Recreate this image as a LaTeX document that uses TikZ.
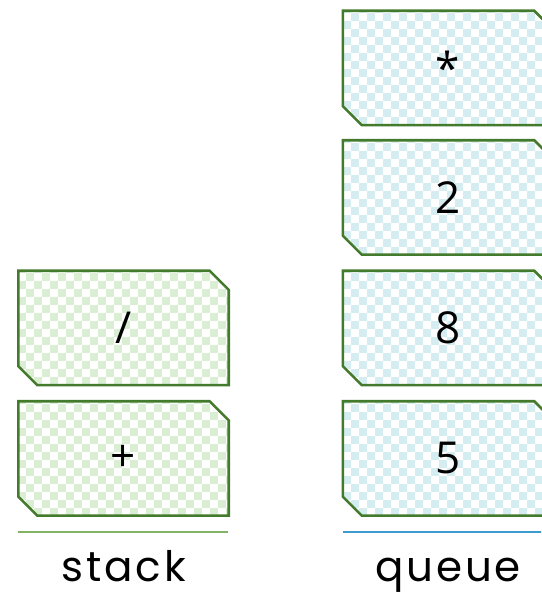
\documentclass[tikz,border=0pt]{standalone}
\usepackage{fontspec}
\setmainfont{Open Sans}
\newfontfamily\capfont[LetterSpace=7]{Poppins}
\usetikzlibrary{backgrounds}
\definecolor{stroke}{HTML}{437A2C}
\definecolor{gsq}{HTML}{D9EED3}
\definecolor{bsq}{HTML}{D5EDF1}
\definecolor{gline}{HTML}{82B366}
\definecolor{bline}{HTML}{3D9BD0}
\newcommand\checkfill[1]{%
  \foreach \i in {0,...,27}{\foreach \j in {0,...,15}{%
    \pgfmathtruncatemacro\chkpar{mod(\i+\j,2)}%
    \ifnum\chkpar=0
      \fill[#1] ([shift={(\i*8pt,\j*8pt)}]path picture bounding box.south west) rectangle ++(8pt,8pt);
    \fi}}}
% chamfered outline drawn behind a named node
\newcommand\cellshape[2]{%
  \begin{scope}[on background layer]
  \path[fill=white, draw=stroke, line width=2.6pt, line join=miter, path picture={\checkfill{#2}}]
    (#1.north west) -- ([xshift=-19pt]#1.north east) -- ([yshift=-19pt]#1.north east)
    -- (#1.south east) -- ([xshift=19pt]#1.south west) -- ([yshift=19pt]#1.south west) -- cycle;
  \end{scope}}
\tikzset{
  cell/.style={shape=rectangle, minimum width=210pt, minimum height=114pt, inner sep=0pt,
    font=\fontsize{44}{52}\selectfont},
  caption/.style={font=\capfont\fontsize{42}{50}\selectfont, anchor=base, inner sep=0pt},
}
\begin{document}
\begin{tikzpicture}[x=1pt,y=1pt]
\useasboundingbox (0,0) rectangle (541,596);
\clip (0,0) rectangle (541,596);
\node[cell] (s1) at (123.5,268) {/};
\node[cell] (s2) at (123.5,137.5) {+};
\node[cell] (q1) at (448,528) {*};
\node[cell] (q2) at (448,398.5) {2};
\node[cell] (q3) at (448,268) {8};
\node[cell] (q4) at (448,137.5) {5};
\cellshape{s1}{gsq}\cellshape{s2}{gsq}
\cellshape{q1}{bsq}\cellshape{q2}{bsq}\cellshape{q3}{bsq}\cellshape{q4}{bsq}
\coordinate (sl1) at (18,64); \coordinate (sl2) at (228,64);
\coordinate (ql1) at (343,64); \coordinate (ql2) at (553,64);
\draw[gline, line width=1.3pt] (sl1) -- (sl2);
\draw[bline, line width=1.3pt] (ql1) -- (ql2);
\node[caption] (st) at (123.5,14) {stack};
\node[caption] (qu) at (448,14) {queue};
\end{tikzpicture}
\end{document}
